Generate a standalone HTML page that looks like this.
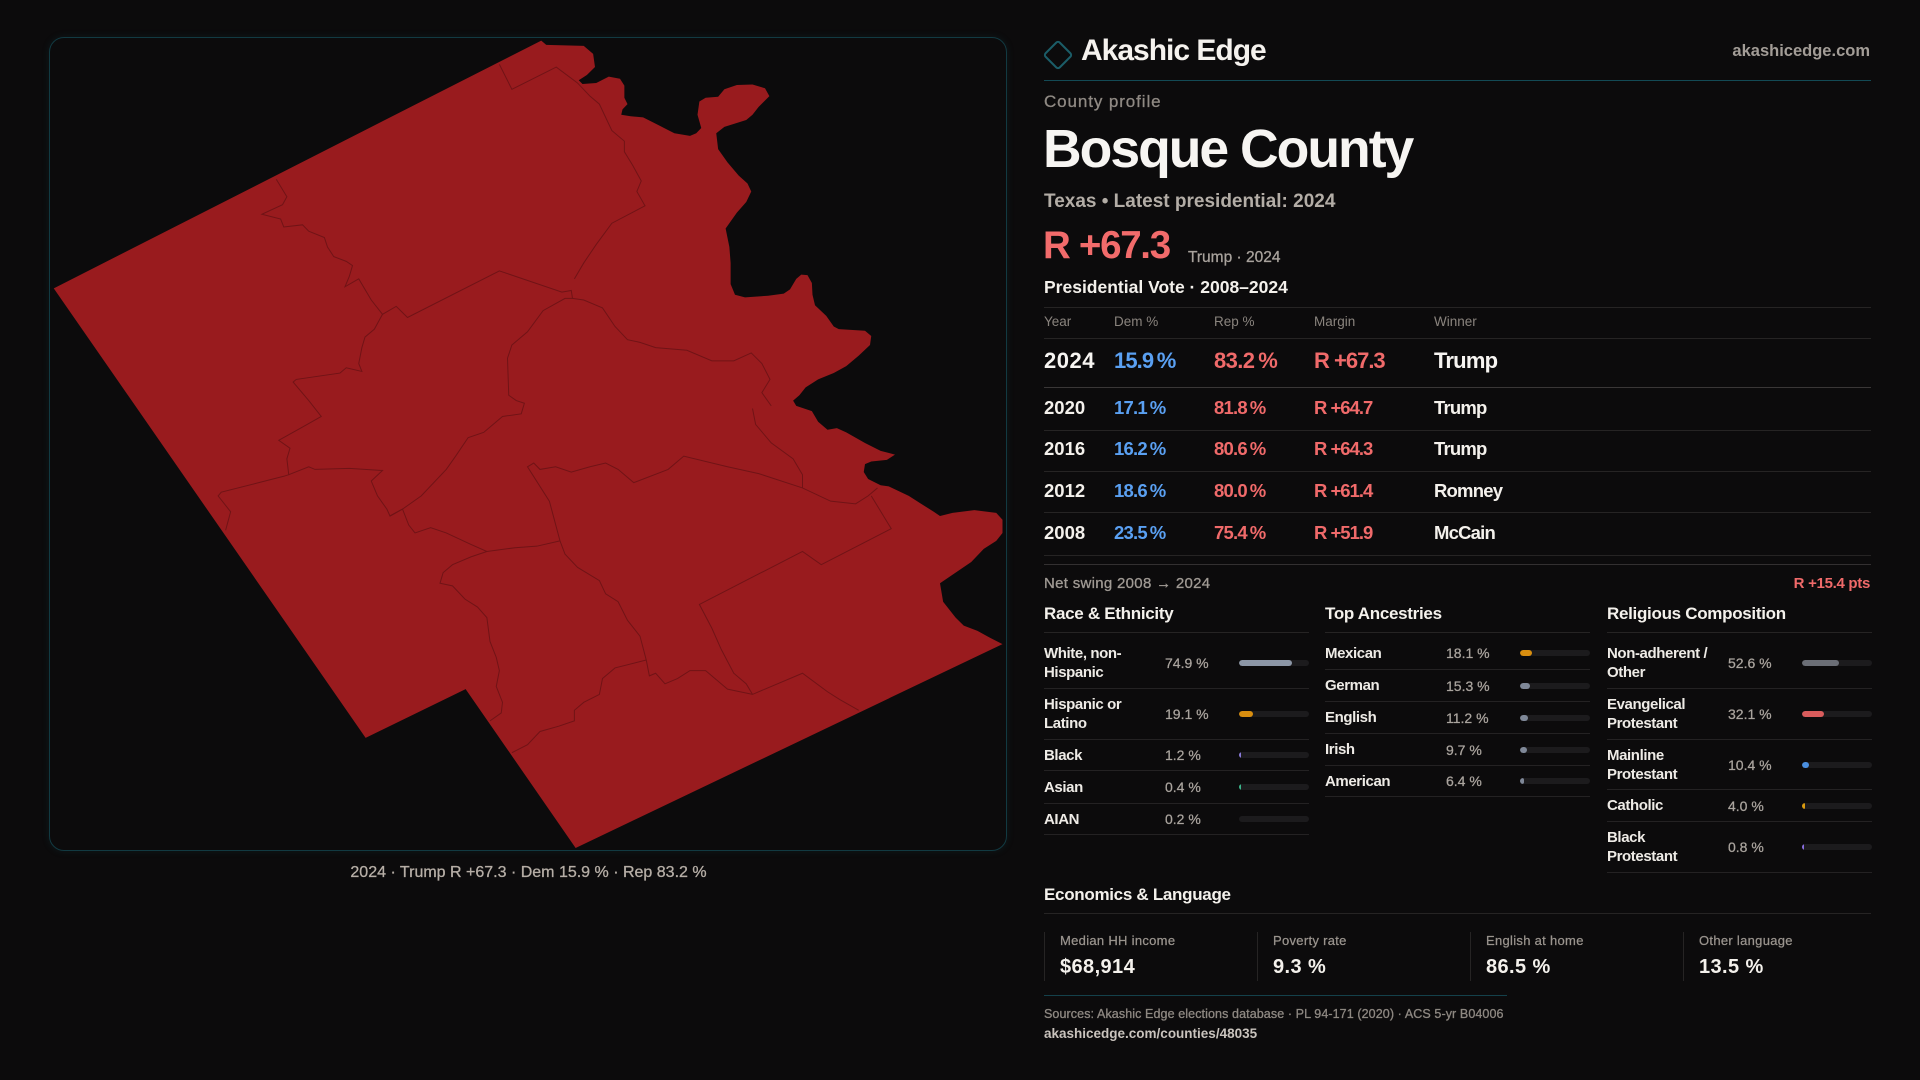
<!DOCTYPE html>
<html>
<head>
<meta charset="utf-8">
<style>
  html,body{margin:0;padding:0;}
  body{width:1920px;height:1080px;background:#0c0b0c;position:relative;overflow:hidden;font-family:"Liberation Sans",sans-serif;}
  .t{position:absolute;white-space:nowrap;line-height:1;}
  .b{font-weight:bold;}
  .m{-webkit-text-stroke:0.3px currentColor;}
  .hl{position:absolute;height:1px;background:#262424;}
  .row{position:absolute;width:265px;display:flex;align-items:center;border-bottom:1px solid #242223;}
  .lb{width:121px;font-weight:bold;font-size:15px;line-height:19px;color:#eeebe6;letter-spacing:-0.4px;white-space:nowrap;}
  .vl{width:74px;font-size:14px;line-height:14px;color:#aaa49e;-webkit-text-stroke:0.25px #aaa49e;white-space:nowrap;}
  .bar{width:70px;height:6px;border-radius:3px;background:#1c1b1d;position:relative;overflow:hidden;}
  .bar i{position:absolute;left:0;top:0;height:6px;border-radius:3px;}
  .stat{position:absolute;top:932px;height:49px;width:212px;border-left:1px solid #262424;}
  .stat .sl{position:absolute;left:15px;top:2px;font-size:13px;line-height:1;color:#9a948e;-webkit-text-stroke:0.25px #9a948e;letter-spacing:0.3px;white-space:nowrap;}
  .stat .sv{position:absolute;left:15px;top:25px;font-size:20px;line-height:1;font-weight:bold;color:#f4f1ec;letter-spacing:0.4px;white-space:nowrap;}
</style>
</head>
<body>

<!-- Map panel -->
<div style="position:absolute;left:49px;top:37px;width:956px;height:812px;border:1px solid #123a42;border-radius:15px;box-shadow:0 0 8px rgba(20,90,100,0.18);"></div>
<svg width="1020" height="870" style="position:absolute;left:0;top:0;">
  <g transform="translate(40,30) scale(0.625,0.529412)">
    <polygon fill="#991b1e" points="802,20 810,28 870,30 885,45 888,70 875,85 862,95 868,102 890,100 910,88 928,92 935,105 935,128 940,140 932,150 930,160 945,163 965,165 990,180 1015,195 1040,200 1050,195 1058,185 1052,160 1055,135 1065,128 1085,126 1095,112 1115,104 1140,103 1160,110 1167,125 1150,145 1140,160 1130,170 1095,183 1082,195 1085,225 1100,250 1118,275 1132,290 1138,305 1130,325 1115,345 1097,375 1103,410 1105,440 1105,480 1112,500 1128,505 1165,502 1190,498 1200,490 1210,470 1218,462 1228,463 1235,478 1236,500 1240,520 1258,540 1270,560 1278,565 1320,568 1330,578 1328,595 1310,615 1290,635 1270,648 1245,660 1225,675 1215,690 1205,700 1210,710 1235,720 1245,740 1260,755 1275,752 1290,760 1320,780 1345,795 1368,802 1355,812 1330,815 1320,820 1318,835 1325,848 1345,860 1358,862 1390,880 1410,895 1430,910 1440,918 1460,912 1495,907 1530,912 1540,925 1540,950 1530,965 1510,980 1490,1005 1465,1025 1440,1045 1445,1080 1465,1110 1478,1125 1500,1135 1520,1148 1540,1160 857,1545 681,1245 521,1337 22,488"/>
    <g fill="none" stroke="#6a1215" stroke-width="1" vector-effect="non-scaling-stroke" opacity="0.85">
      <polyline vector-effect="non-scaling-stroke" points="378,282 395,315 388,330 355,348 385,357 390,372 420,368 430,380 455,392 460,410 470,428 490,437 500,445 495,465 488,485 510,470 530,510 548,537 570,522 588,543 735,455 835,495 850,492 852,507 840,507 805,530 780,570 755,595 748,620 750,690 762,700 775,705 770,725 740,730 710,760 685,770 665,805 650,830 610,880 580,905 560,918"/>
      <polyline vector-effect="non-scaling-stroke" points="852,507 870,510 900,525 920,560 940,585 960,590 985,600 1035,605 1075,625 1110,625 1138,610 1155,630 1168,660 1155,685 1170,710"/>
      <polyline vector-effect="non-scaling-stroke" points="1140,715 1145,745 1170,780 1205,810 1220,840 1220,865"/>
      <polyline vector-effect="non-scaling-stroke" points="855,470 870,440 890,405 915,365 968,332 955,305 962,285 948,255 935,230 935,210 915,190 895,140 880,125 860,100 826,70 755,112 735,65"/>
      <polyline vector-effect="non-scaling-stroke" points="548,537 535,565 520,580 515,600 510,630 515,645 490,638 480,648 410,660 405,665 430,700 450,730 420,750 382,775 400,790 395,810 398,840 390,843 350,855 290,873 285,880 305,910 297,945"/>
      <polyline vector-effect="non-scaling-stroke" points="398,840 430,825 440,830 495,828 548,832 530,852 540,880 555,905 560,918 580,905 590,935 600,950 625,940 650,950 690,972 715,985 760,978 795,975 832,965 815,890 780,825 790,818 800,830 825,825 850,835 880,825 905,818 925,830 950,855 1005,830 1030,805 1100,825 1150,838 1220,865 1265,890 1305,895 1325,880 1340,865"/>
      <polyline vector-effect="non-scaling-stroke" points="1330,880 1362,942 1250,1010 1220,985 1055,1085 1075,1130 1090,1170 1110,1215 1130,1235 1140,1255"/>
      <polyline vector-effect="non-scaling-stroke" points="832,965 840,990 860,1015 895,1040 905,1065 925,1080 940,1115 960,1145 970,1190 975,1220 985,1215 1000,1235 1020,1225 1040,1210 1065,1210 1090,1235 1100,1245 1140,1255 1220,1215 1260,1250 1280,1265 1310,1285"/>
      <polyline vector-effect="non-scaling-stroke" points="715,985 690,995 660,1010 645,1025 640,1045 660,1050 680,1075 700,1090 715,1110 720,1155 730,1185 735,1210 730,1240 740,1270 738,1290 720,1305"/>
      <polyline vector-effect="non-scaling-stroke" points="970,1190 920,1205 900,1225 895,1255 870,1270 855,1285 855,1305 830,1315 800,1325 780,1350 755,1365"/>
    </g>
  </g>
</svg>
<div class="t m" style="left:0;width:1057px;text-align:center;top:865px;font-size:16px;color:#b6aea6;">2024 · Trump R +67.3 · Dem 15.9 % · Rep 83.2 %</div>

<!-- Header -->
<svg width="40" height="40" style="position:absolute;left:1038px;top:35px;">
  <rect x="-10" y="-10" width="20" height="20" rx="2.5" transform="translate(20,20) rotate(45)" stroke="#1b5d68" stroke-width="2" fill="none"/>
</svg>
<div class="t b" style="left:1081px;top:36px;font-size:30px;letter-spacing:-1px;color:#f5f2ee;">Akashic Edge</div>
<div class="t b" style="right:50px;top:43px;font-size:16.5px;color:#a39d97;">akashicedge.com</div>
<div style="position:absolute;left:1044px;top:80px;width:827px;height:1px;background:#134a55;"></div>

<div class="t m" style="left:1044px;top:93px;font-size:17px;letter-spacing:0.9px;color:#8f8983;">County profile</div>
<div class="t b" style="left:1043px;top:123px;font-size:53.5px;letter-spacing:-2px;color:#f7f5f2;">Bosque County</div>
<div class="t b" style="left:1044px;top:192px;font-size:19px;color:#b3ada6;">Texas • Latest presidential: 2024</div>
<div class="t b" style="left:1043px;top:227px;font-size:38.5px;letter-spacing:-1.3px;color:#f26b6b;">R +67.3</div>
<div class="t m" style="left:1188px;top:250px;font-size:15.5px;color:#a8a29c;">Trump · 2024</div>
<div class="t b" style="left:1044px;top:279px;font-size:17.5px;color:#f4f1ec;">Presidential Vote · 2008–2024</div>

<!-- table lines -->
<div class="hl" style="left:1044px;width:827px;top:307px;"></div>
<div class="hl" style="left:1044px;width:827px;top:338px;"></div>
<div class="hl" style="left:1044px;width:827px;top:387px;background:#3a3737;"></div>
<div class="hl" style="left:1044px;width:827px;top:430px;"></div>
<div class="hl" style="left:1044px;width:827px;top:471px;"></div>
<div class="hl" style="left:1044px;width:827px;top:512px;"></div>
<div class="hl" style="left:1044px;width:827px;top:555px;"></div>
<div class="hl" style="left:1044px;width:827px;top:564px;background:#333031;"></div>

<!-- table header -->
<div class="t" style="left:1044px;top:315px;font-size:13.5px;color:#8a847e;">Year</div>
<div class="t" style="left:1114px;top:315px;font-size:13.5px;color:#8a847e;">Dem %</div>
<div class="t" style="left:1214px;top:315px;font-size:13.5px;color:#8a847e;">Rep %</div>
<div class="t" style="left:1314px;top:315px;font-size:13.5px;color:#8a847e;">Margin</div>
<div class="t" style="left:1434px;top:315px;font-size:13.5px;color:#8a847e;">Winner</div>

<!-- 2024 row -->
<div class="t b" style="left:1044px;top:350px;font-size:22px;letter-spacing:0.5px;color:#f7f5f2;">2024</div>
<div class="t b" style="left:1114px;top:350px;font-size:22px;letter-spacing:-0.9px;color:#5aa0f2;">15.9&thinsp;%</div>
<div class="t b" style="left:1214px;top:350px;font-size:22px;letter-spacing:-0.6px;color:#f06a6a;">83.2&thinsp;%</div>
<div class="t b" style="left:1314px;top:350px;font-size:22px;letter-spacing:-1px;color:#f06a6a;">R +67.3</div>
<div class="t b" style="left:1434px;top:350px;font-size:22px;letter-spacing:-0.8px;color:#f7f5f2;">Trump</div>

<!-- other rows -->
<div class="t b" style="left:1044px;top:399px;font-size:18.5px;color:#f4f1ec;">2020</div>
<div class="t b" style="left:1114px;top:399px;font-size:18.5px;letter-spacing:-0.8px;color:#5aa0f2;">17.1&thinsp;%</div>
<div class="t b" style="left:1214px;top:399px;font-size:18.5px;letter-spacing:-0.8px;color:#f06a6a;">81.8&thinsp;%</div>
<div class="t b" style="left:1314px;top:399px;font-size:18.5px;letter-spacing:-1px;color:#f06a6a;">R +64.7</div>
<div class="t b" style="left:1434px;top:399px;font-size:18.5px;letter-spacing:-0.8px;color:#f4f1ec;">Trump</div>

<div class="t b" style="left:1044px;top:440px;font-size:18.5px;color:#f4f1ec;">2016</div>
<div class="t b" style="left:1114px;top:440px;font-size:18.5px;letter-spacing:-0.8px;color:#5aa0f2;">16.2&thinsp;%</div>
<div class="t b" style="left:1214px;top:440px;font-size:18.5px;letter-spacing:-0.8px;color:#f06a6a;">80.6&thinsp;%</div>
<div class="t b" style="left:1314px;top:440px;font-size:18.5px;letter-spacing:-1px;color:#f06a6a;">R +64.3</div>
<div class="t b" style="left:1434px;top:440px;font-size:18.5px;letter-spacing:-0.8px;color:#f4f1ec;">Trump</div>

<div class="t b" style="left:1044px;top:482px;font-size:18.5px;color:#f4f1ec;">2012</div>
<div class="t b" style="left:1114px;top:482px;font-size:18.5px;letter-spacing:-0.8px;color:#5aa0f2;">18.6&thinsp;%</div>
<div class="t b" style="left:1214px;top:482px;font-size:18.5px;letter-spacing:-0.8px;color:#f06a6a;">80.0&thinsp;%</div>
<div class="t b" style="left:1314px;top:482px;font-size:18.5px;letter-spacing:-1px;color:#f06a6a;">R +61.4</div>
<div class="t b" style="left:1434px;top:482px;font-size:18.5px;letter-spacing:-0.8px;color:#f4f1ec;">Romney</div>

<div class="t b" style="left:1044px;top:524px;font-size:18.5px;color:#f4f1ec;">2008</div>
<div class="t b" style="left:1114px;top:524px;font-size:18.5px;letter-spacing:-0.8px;color:#5aa0f2;">23.5&thinsp;%</div>
<div class="t b" style="left:1214px;top:524px;font-size:18.5px;letter-spacing:-0.8px;color:#f06a6a;">75.4&thinsp;%</div>
<div class="t b" style="left:1314px;top:524px;font-size:18.5px;letter-spacing:-1px;color:#f06a6a;">R +51.9</div>
<div class="t b" style="left:1434px;top:524px;font-size:18.5px;letter-spacing:-0.8px;color:#f4f1ec;">McCain</div>

<!-- net swing -->
<div class="t m" style="left:1044px;top:576px;font-size:15px;letter-spacing:0.3px;color:#a09a94;">Net swing 2008 → 2024</div>
<div class="t b" style="right:50px;top:576px;font-size:15px;letter-spacing:-0.3px;color:#f06a6a;">R +15.4 pts</div>

<!-- section headings -->
<div class="t b" style="left:1044px;top:605px;font-size:17px;letter-spacing:-0.3px;color:#f4f1ec;">Race &amp; Ethnicity</div>
<div class="t b" style="left:1325px;top:605px;font-size:17px;letter-spacing:-0.3px;color:#f4f1ec;">Top Ancestries</div>
<div class="t b" style="left:1607px;top:605px;font-size:17px;letter-spacing:-0.3px;color:#f4f1ec;">Religious Composition</div>
<div class="hl" style="left:1044px;width:265px;top:632px;"></div>
<div class="hl" style="left:1325px;width:265px;top:632px;"></div>
<div class="hl" style="left:1607px;width:265px;top:632px;"></div>

<!-- Race -->
<div class="row" style="left:1044px;top:637px;height:51px;"><div class="lb">White, non-<br>Hispanic</div><div class="vl">74.9 %</div><div class="bar"><i style="width:53px;background:#8c96a6"></i></div></div>
<div class="row" style="left:1044px;top:689px;height:50px;"><div class="lb">Hispanic or<br>Latino</div><div class="vl">19.1 %</div><div class="bar"><i style="width:14px;background:#d98e0f"></i></div></div>
<div class="row" style="left:1044px;top:740px;height:30px;"><div class="lb">Black</div><div class="vl">1.2 %</div><div class="bar"><i style="width:2px;border-radius:1px;background:#8a7ad8"></i></div></div>
<div class="row" style="left:1044px;top:771px;height:32px;"><div class="lb">Asian</div><div class="vl">0.4 %</div><div class="bar"><i style="width:2px;border-radius:1px;background:#3bb48a"></i></div></div>
<div class="row" style="left:1044px;top:804px;height:30px;"><div class="lb">AIAN</div><div class="vl">0.2 %</div><div class="bar"></div></div>

<!-- Ancestries -->
<div class="row" style="left:1325px;top:637px;height:32px;"><div class="lb">Mexican</div><div class="vl">18.1 %</div><div class="bar"><i style="width:12px;background:#d98e0f"></i></div></div>
<div class="row" style="left:1325px;top:670px;height:31px;"><div class="lb">German</div><div class="vl">15.3 %</div><div class="bar"><i style="width:10px;background:#7f8898"></i></div></div>
<div class="row" style="left:1325px;top:702px;height:31px;"><div class="lb">English</div><div class="vl">11.2 %</div><div class="bar"><i style="width:8px;background:#7f8898"></i></div></div>
<div class="row" style="left:1325px;top:734px;height:31px;"><div class="lb">Irish</div><div class="vl">9.7 %</div><div class="bar"><i style="width:7px;background:#7f8898"></i></div></div>
<div class="row" style="left:1325px;top:766px;height:30px;"><div class="lb">American</div><div class="vl">6.4 %</div><div class="bar"><i style="width:4px;background:#7f8898"></i></div></div>

<!-- Religion -->
<div class="row" style="left:1607px;top:637px;height:51px;"><div class="lb">Non-adherent /<br>Other</div><div class="vl">52.6 %</div><div class="bar"><i style="width:37px;background:#6b6e76"></i></div></div>
<div class="row" style="left:1607px;top:689px;height:50px;"><div class="lb">Evangelical<br>Protestant</div><div class="vl">32.1 %</div><div class="bar"><i style="width:22px;background:#d95c5c"></i></div></div>
<div class="row" style="left:1607px;top:740px;height:49px;"><div class="lb">Mainline<br>Protestant</div><div class="vl">10.4 %</div><div class="bar"><i style="width:7px;background:#4a8fe0"></i></div></div>
<div class="row" style="left:1607px;top:790px;height:31px;"><div class="lb">Catholic</div><div class="vl">4.0 %</div><div class="bar"><i style="width:3px;border-radius:1px;background:#d99a10"></i></div></div>
<div class="row" style="left:1607px;top:822px;height:50px;"><div class="lb">Black<br>Protestant</div><div class="vl">0.8 %</div><div class="bar"><i style="width:2px;border-radius:1px;background:#8a6ee0"></i></div></div>

<!-- Economics -->
<div class="t b" style="left:1044px;top:886px;font-size:17px;letter-spacing:-0.3px;color:#f4f1ec;">Economics &amp; Language</div>
<div class="hl" style="left:1044px;width:827px;top:913px;"></div>

<div class="stat" style="left:1044px;"><div class="sl">Median HH income</div><div class="sv">$68,914</div></div>
<div class="stat" style="left:1257px;"><div class="sl">Poverty rate</div><div class="sv">9.3 %</div></div>
<div class="stat" style="left:1470px;"><div class="sl">English at home</div><div class="sv">86.5 %</div></div>
<div class="stat" style="left:1683px;"><div class="sl">Other language</div><div class="sv">13.5 %</div></div>

<div style="position:absolute;left:1044px;top:995px;width:463px;height:1px;background:#14414b;"></div>
<div class="t m" style="left:1044px;top:1008px;font-size:12.5px;letter-spacing:0.1px;color:#8e8882;">Sources: Akashic Edge elections database · PL 94-171 (2020) · ACS 5-yr B04006</div>
<div class="t b" style="left:1044px;top:1027px;font-size:13.5px;color:#c9c3bd;">akashicedge.com/counties/48035</div>

</body>
</html>
